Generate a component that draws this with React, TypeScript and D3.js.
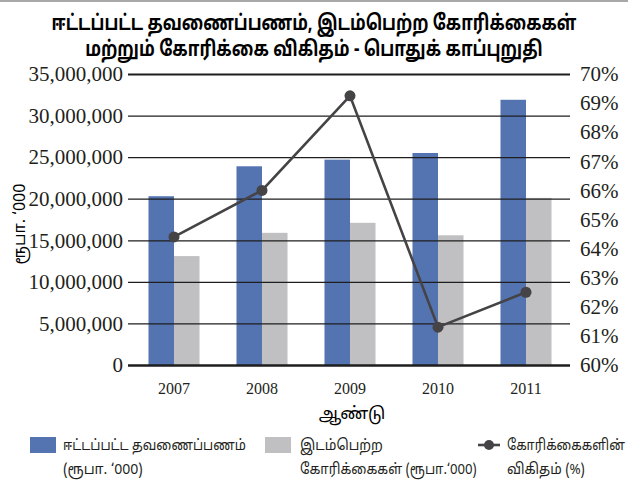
import React, { useRef, useEffect } from 'react';
import * as d3 from 'd3';

const years = ['2007', '2008', '2009', '2010', '2011'];
const earnedPremium = [20300000, 23900000, 24700000, 25500000, 31900000];
const claimsIncurred = [13100000, 15900000, 17100000, 15600000, 20100000];
const claimsRatio = [64.4, 66.0, 69.25, 61.3, 62.5];

const titleLines = ['ஈட்டப்பட்ட தவணைப்பணம், இடம்பெற்ற கோரிக்கைகள்', 'மற்றும் கோரிக்கை விகிதம் - பொதுக் காப்புறுதி'];
const xTitle = 'ஆண்டு';
const yTitle = 'ரூபா. \u2018000';
const legendItems = [
  ['ஈட்டப்பட்ட தவணைப்பணம்', '(ரூபா. \u2018000)'],
  ['இடம்பெற்ற', 'கோரிக்கைகள் (ரூபா.\u2018000)'],
  ['கோரிக்கைகளின்', 'விகிதம் (%)'],
];

const BLUE = '#5374b1';
const GREY = '#c0c0c2';
const LINE = '#454345';
const TAMIL = '"Noto Sans Tamil", "Lohit Tamil", "Noto Sans", sans-serif';
const SERIF = '"Liberation Serif", "Times New Roman", serif';

// squeeze a text horizontally so it spans `width` px, anchored at (x, y)
function fitText(text: d3.Selection<SVGTextElement, any, any, any>, x: number, y: number, width: number) {
  const natural = text.node()!.getComputedTextLength();
  const s = Math.min(1, width / natural);
  text.attr('x', 0).attr('y', 0).attr('transform', `translate(${x},${y}) scale(${s},1)`);
}

const Chart = () => {
  const ref = useRef<SVGSVGElement>(null);

  useEffect(() => {
    const svg = d3.select(ref.current);
    svg.selectAll('*').remove();

    const left = 128, right = 570, top = 74, bottom = 365;

    const x0 = d3.scaleBand().domain(years).range([130, right]).paddingInner(0.42).paddingOuter(0.21);
    const x1 = d3.scaleBand().domain(['earned', 'claims']).range([0, x0.bandwidth()]);
    const y = d3.scaleLinear().domain([0, 35000000]).range([bottom, top]);
    const yPct = d3.scaleLinear().domain([60, 70]).range([bottom, top]);

    // top border
    svg.append('line')
      .attr('x1', 0).attr('x2', 628).attr('y1', 1).attr('y2', 1)
      .attr('stroke', '#a8a8a8').attr('stroke-width', 2);

    // title (condensed like the original)
    const titleWidths = [525, 458];
    titleLines.forEach((t, i) => {
      const el = svg.append('text')
        .attr('text-anchor', 'middle')
        .style('font-family', TAMIL).style('font-weight', 'bold').style('font-size', '21px')
        .text(t);
      fitText(el, 314, 30 + i * 26, titleWidths[i]);
    });

    // bars
    const groups = svg.append('g').selectAll('g').data(years).join('g')
      .attr('transform', d => `translate(${x0(d)},0)`);
    groups.append('rect')
      .attr('x', x1('earned')!)
      .attr('y', (d, i) => y(earnedPremium[i]))
      .attr('width', x1.bandwidth())
      .attr('height', (d, i) => y(0) - y(earnedPremium[i]))
      .attr('fill', BLUE);
    groups.append('rect')
      .attr('x', x1('claims')!)
      .attr('y', (d, i) => y(claimsIncurred[i]))
      .attr('width', x1.bandwidth())
      .attr('height', (d, i) => y(0) - y(claimsIncurred[i]))
      .attr('fill', GREY);

    // left axis + gridlines
    const yAxis = svg.append('g')
      .attr('transform', `translate(${left},0)`)
      .call(d3.axisLeft(y).tickValues(d3.range(0, 35000001, 5000000)).tickFormat(d3.format(',')).tickSize(-(right - left)).tickPadding(5));
    yAxis.select('.domain').remove();
    yAxis.selectAll('line')
      .attr('stroke', '#1e1e1e')
      .attr('stroke-width', (d: any) => (d === 0 ? 2.6 : d === 35000000 ? 2 : 1.3));
    yAxis.selectAll('text')
      .style('font-family', SERIF).style('font-size', '21px').attr('fill', '#231f20');

    // right axis
    const yAxisR = svg.append('g')
      .attr('transform', `translate(${right + 8},0)`)
      .call(d3.axisRight(yPct).ticks(10).tickFormat(d => `${d}%`).tickSize(0).tickPadding(2));
    yAxisR.select('.domain').remove();
    yAxisR.selectAll('text')
      .style('font-family', SERIF).style('font-size', '21px').attr('fill', '#231f20');

    // x labels
    const xAxis = svg.append('g')
      .attr('transform', `translate(0,${bottom})`)
      .call(d3.axisBottom(x0).tickSize(0).tickPadding(18));
    xAxis.select('.domain').remove();
    xAxis.selectAll('text')
      .style('font-family', SERIF).style('font-size', '16px').attr('fill', '#231f20');

    // line series
    const cx = (d: string) => x0(d)! + x0.bandwidth() / 2;
    const line = d3.line<number>().x((d, i) => cx(years[i])).y(d => yPct(d));
    svg.append('path')
      .datum(claimsRatio)
      .attr('d', line)
      .attr('fill', 'none').attr('stroke', LINE).attr('stroke-width', 2.6);
    svg.append('g').selectAll('circle').data(claimsRatio).join('circle')
      .attr('cx', (d, i) => cx(years[i])).attr('cy', d => yPct(d)).attr('r', 5.5)
      .attr('fill', LINE);

    // axis titles
    svg.append('text')
      .attr('transform', `translate(25,224) rotate(-90)`)
      .attr('text-anchor', 'middle')
      .style('font-family', TAMIL).style('font-size', '16px')
      .text(yTitle);
    svg.append('text')
      .attr('x', 352).attr('y', 419).attr('text-anchor', 'middle')
      .style('font-family', TAMIL).style('font-size', '17px')
      .text(xTitle);

    // legend
    const lg = svg.append('g').style('font-family', TAMIL).style('font-size', '15px');
    const lx = [30, 265, 478];
    const tx = [63, 300, 507];
    const tw = [[183, 80], [83, 177], [118, 78]];
    lg.append('rect').attr('x', lx[0]).attr('y', 437).attr('width', 26).attr('height', 16).attr('fill', BLUE);
    lg.append('rect').attr('x', lx[1]).attr('y', 437).attr('width', 26).attr('height', 16).attr('fill', GREY);
    lg.append('line').attr('x1', lx[2]).attr('x2', lx[2] + 22).attr('y1', 445).attr('y2', 445)
      .attr('stroke', LINE).attr('stroke-width', 2.6);
    lg.append('circle').attr('cx', lx[2] + 11).attr('cy', 445).attr('r', 5).attr('fill', LINE);
    legendItems.forEach((item, i) => {
      item.forEach((t, j) => {
        const el = lg.append('text').attr('fill', '#231f20').text(t);
        fitText(el, tx[i], 450 + j * 24, tw[i][j]);
      });
    });
  }, []);

  return <svg ref={ref} width={628} height={481} style={{ position: 'absolute', left: 0, top: 0, background: '#fff' }} />;
};

export default function App() {
  return <Chart />;
}
